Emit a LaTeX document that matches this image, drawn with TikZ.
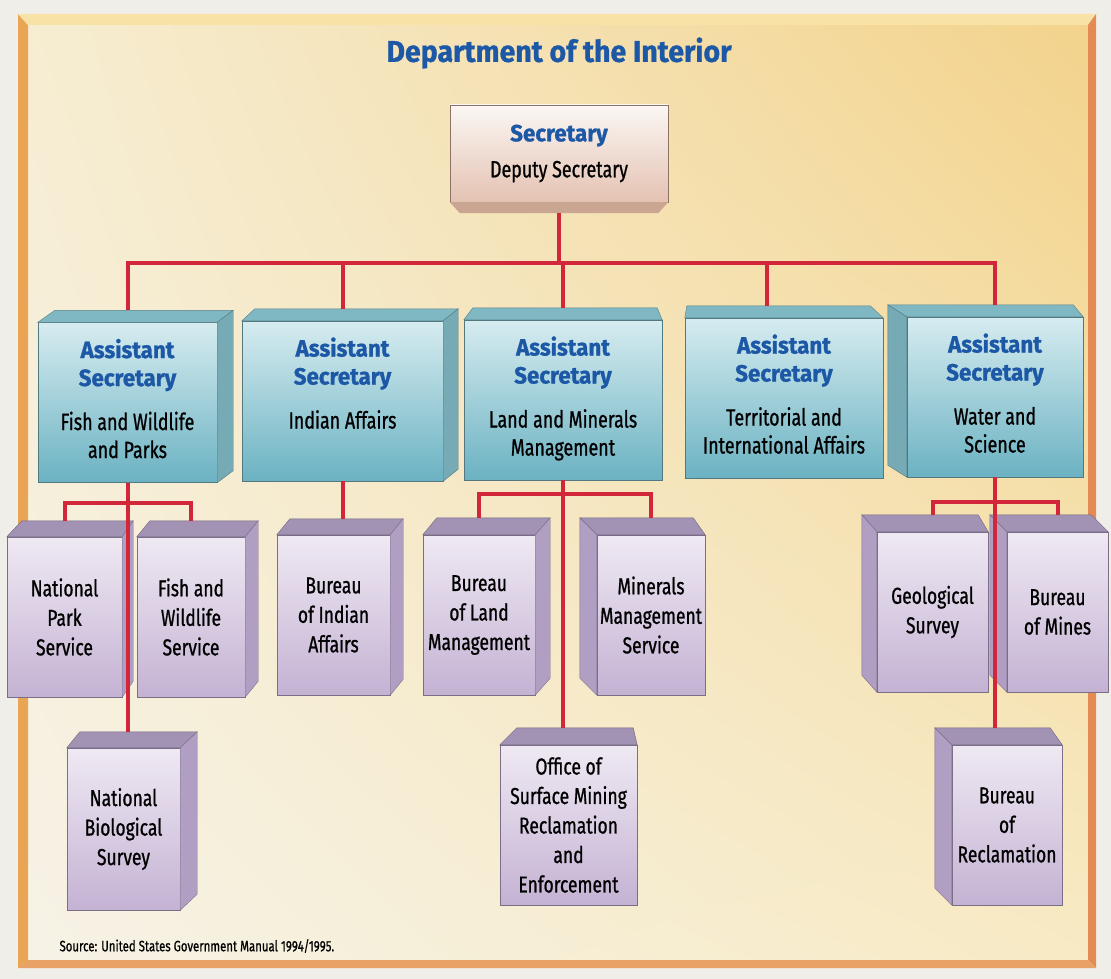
\documentclass[tikz,border=0pt]{standalone}
\usepackage{fontspec}
\setmainfont{Fira Sans}[FakeStretch=0.76,
  UprightFeatures={FakeBold=0.8}, BoldFeatures={FakeBold=1.2}]
\newfontfamily\headfont{Fira Sans}[FakeStretch=0.95, BoldFeatures={FakeBold=1}]
\usetikzlibrary{calc}
\usetikzlibrary{shadings}

\definecolor{paper}{HTML}{F0EEE8}
\definecolor{titleblue}{HTML}{1C58A6}
\definecolor{linkred}{HTML}{D2263A}
\definecolor{panelTL}{HTML}{F6EDD2}
\definecolor{panelTR}{HTML}{F3D38C}
\definecolor{panelBL}{HTML}{F6F2E6}
\definecolor{panelBR}{HTML}{F7EAC4}
\definecolor{frameleft}{HTML}{E9A553}
\definecolor{frametop}{HTML}{F8E2A6}
\definecolor{frameright}{HTML}{E38B52}
\definecolor{framebottom}{HTML}{E9A265}
\definecolor{secfront}{HTML}{FBF7F4}
\definecolor{secfrontdark}{HTML}{E4C2B2}
\definecolor{secbevel}{HTML}{C9A592}
\definecolor{asfront}{HTML}{D6ECF0}
\definecolor{asfrontdark}{HTML}{6BB2C2}
\definecolor{astopface}{HTML}{7FB8C2}
\definecolor{asside}{HTML}{76ABB6}
\definecolor{bufront}{HTML}{EFE9F3}
\definecolor{bufrontdark}{HTML}{C4B2D3}
\definecolor{butopface}{HTML}{A292B4}
\definecolor{buside}{HTML}{B09FC3}

\tikzstyle{link}=[draw=linkred, line width=4pt]
\tikzstyle{office}=[align=center, inner sep=0pt, text=black]
\tikzstyle{secretary}=[office, minimum width=218pt, minimum height=97pt,
  top color=secfront, bottom color=secfrontdark, draw=secbevel!70!black, thin,
  font=\fontsize{23.5}{36}\selectfont]
\tikzstyle{assistant}=[office, minimum height=160pt,
  top color=asfront, bottom color=asfrontdark, draw=asside!70!black, thin,
  font=\fontsize{23.5}{28}\selectfont]
\tikzstyle{bureau}=[office, minimum height=160pt,
  top color=bufront, bottom color=bufrontdark, draw=buside!70!black, thin,
  font=\fontsize{23}{29.5}\selectfont]

\newcommand{\hd}[1]{{\headfont\bfseries\color{titleblue}#1}}
% two heading lines, then the office, set a little above the middle
\newcommand{\asst}[2]{\hd{Assistant}\\\hd{Secretary}\\[16pt]#1\\#2\\[-20pt]~}
% top face and visible side of a box: node, left shift, right shift, depth, colours
\newcommand{\cube}[6]{%
  \filldraw[fill=#5, draw=#5!70!black, thin] (#1.north west)
    -- ($(#1.north west)+(#2,-#4)$) -- ($(#1.north east)+(#3,-#4)$)
    -- (#1.north east) -- cycle;
  \ifdim #3pt>0pt
    \filldraw[fill=#6, draw=#6!70!black, thin] (#1.north east)
      -- ($(#1.north east)+(#3,-#4)$) -- ($(#1.south east)+(#3,-#4)$)
      -- (#1.south east) -- cycle;
  \fi
  \ifdim #2pt<0pt
    \filldraw[fill=#6, draw=#6!70!black, thin] (#1.north west)
      -- ($(#1.north west)+(#2,-#4)$) -- ($(#1.south west)+(#2,-#4)$)
      -- (#1.south west) -- cycle;
  \fi
  \coordinate (#1-top) at ($(#1.north)+(0,-#4)$);
}

\begin{document}
\begin{tikzpicture}[x=1pt, y=-1pt]
  \useasboundingbox (0,0) rectangle (1111,979);
  \fill[paper] (0,0) rectangle (1111,979);

  % panel with bevelled frame
  \shade[upper left=panelTL, upper right=panelTR, lower left=panelBL, lower right=panelBR]
    (28,25) rectangle (1088,960);
  \fill[frameleft] (18,14) -- (28,25) -- (28,960) -- (18,968) -- cycle;
  \fill[frametop] (18,14) -- (1096,14) -- (1088,25) -- (28,25) -- cycle;
  \fill[frameright] (1096,14) -- (1096,968) -- (1088,960) -- (1088,25) -- cycle;
  \fill[framebottom] (18,968) -- (1096,968) -- (1088,960) -- (28,960) -- cycle;

  \node (title) at (559,53) {\fontsize{30}{36}\selectfont\hd{Department of the Interior}};

  % secretary
  \node[secretary] (sec) at (559,153.5) {\hd{Secretary}\\Deputy Secretary};
  \fill[secbevel] (sec.south west) -- (sec.south east)
    -- ($(sec.south east)+(-10,11)$) -- ($(sec.south west)+(10,11)$) -- cycle;
  \coordinate (sec-base) at ($(sec.south)+(0,11)$);

  % assistant secretaries
  \node[assistant, minimum width=179pt] (as1) at (127.5,402.5)
    {\asst{Fish and Wildlife}{and Parks}};
  \node[assistant, minimum width=201pt] (as2) at (342.5,401)
    {\asst{Indian Affairs}{~}};
  \node[assistant, minimum width=198pt] (as3) at (563,400)
    {\asst{Land and Minerals}{Management}};
  \node[assistant, minimum width=198pt] (as4) at (784,398)
    {\asst{Territorial and}{International Affairs}};
  \node[assistant, minimum width=176pt] (as5) at (995,397)
    {\asst{Water and}{Science}};
  \foreach \n/\l/\r in {as1/17/16, as2/13/15, as3/9/-5, as4/2/-13, as5/-19/-10}
    \cube{\n}{\l}{\r}{12}{astopface}{asside};

  % bureaus
  \node[bureau, minimum width=115pt] (nps) at (64.5,617) {National\\Park\\Service};
  \node[bureau, minimum width=108pt] (fws) at (191,617) {Fish and\\Wildlife\\Service};
  \node[bureau, minimum width=113pt, minimum height=162pt] (nbs) at (123.5,829)
    {National\\Biological\\Survey};
  \node[bureau, minimum width=113pt] (bia) at (333.5,615) {Bureau\\of Indian\\Affairs};
  \node[bureau, minimum width=112pt] (blm) at (479,615) {Bureau\\of Land\\Management};
  \node[bureau, minimum width=108pt] (mms) at (651,615) {Minerals\\Management\\Service};
  \node[bureau, minimum width=137pt] (osm) at (568.5,825)
    {Office of\\Surface Mining\\Reclamation\\and\\Enforcement};
  \node[bureau, minimum width=111pt] (geo) at (932.5,612) {Geological\\Survey};
  \node[bureau, minimum width=101pt] (mines) at (1057.5,612) {Bureau\\of Mines};
  \node[bureau, minimum width=110pt] (rec) at (1007,825) {Bureau\\of\\Reclamation};
  \foreach \n/\l/\r/\d in {nps/15/11/16, fws/13/13/16, nbs/13/17/16, bia/13/13/16,
      blm/14/15/17, mms/-17/-12/17, osm/17/-4/17, geo/-15/-10/17,
      mines/-17/-17/17, rec/-17/-12/17}
    \cube{\n}{\l}{\r}{\d}{butopface}{buside};

  % reporting lines
  \coordinate (bus) at (559,263);
  \coordinate (fwbus) at (127.5,503);
  \coordinate (landbus) at (563,494);
  \coordinate (waterbus) at (995,502);
  \draw[link] (sec-base) -- (sec-base |- bus);
  \draw[link] (as1-top) |- (bus) -| (as5-top);
  \draw[link] (as2-top) -- (as2-top |- bus);
  \draw[link] (as3-top) -- (as3-top |- bus);
  \draw[link] ($(as4-top)+(-17,0)$) -- ($(as4-top |- bus)+(-17,0)$);

  \draw[link] (nps-top) |- (fwbus) -| (fws-top);
  \draw[link] (as1.south) -- (as1.south |- nbs-top);
  \draw[link] (as2.south) -- (as2.south |- bia-top);
  \draw[link] (blm-top) |- (landbus) -| (mms-top);
  \draw[link] (as3.south) -- (as3.south |- osm-top);
  \draw[link] (geo-top) |- (waterbus) -| (mines-top);
  \draw[link] (as5.south) -- (as5.south |- rec-top);

  \node[anchor=west] (source) at (56,946)
    {\fontsize{15}{18}\selectfont Source: United States Government Manual 1994/1995.};
\end{tikzpicture}
\end{document}
